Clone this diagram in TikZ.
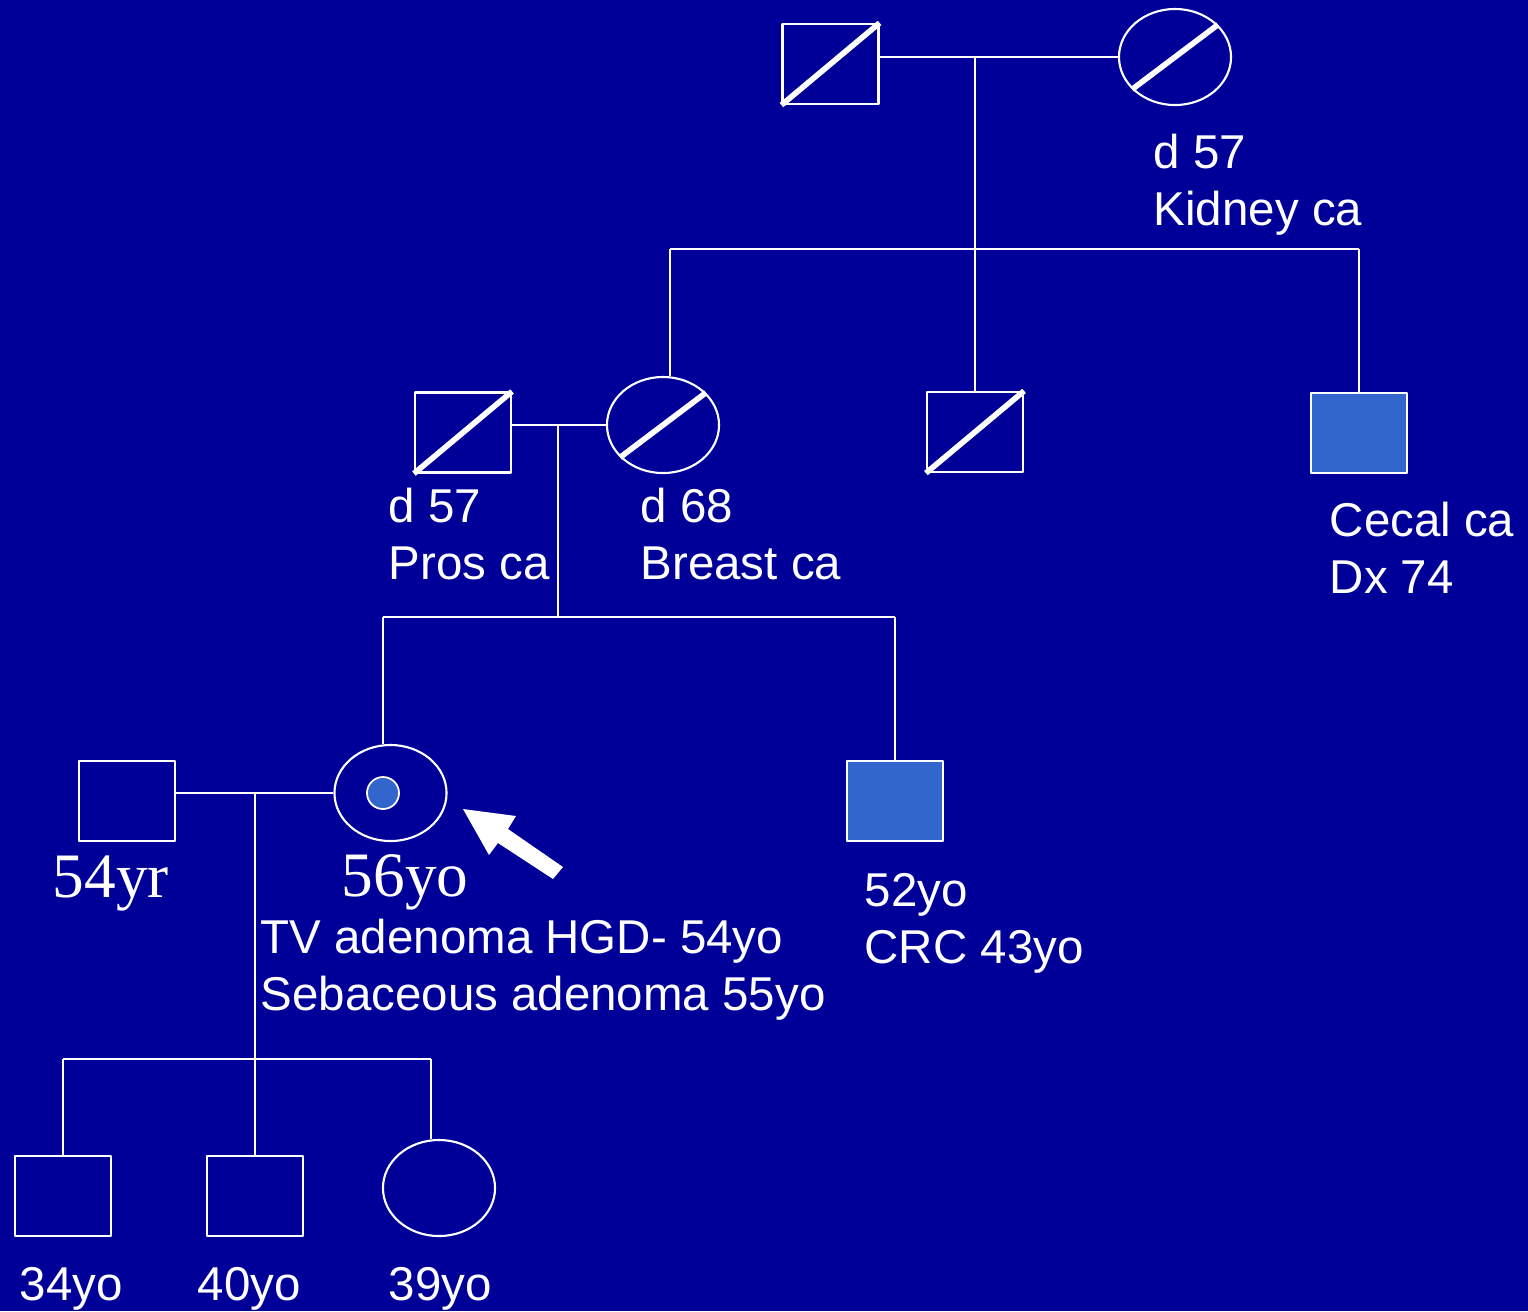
\documentclass[tikz,border=0pt]{standalone}
\usepackage{fontspec}
\setmainfont{Liberation Sans}
\newfontfamily\serifage{Liberation Serif}
\usetikzlibrary{shapes.geometric}
\definecolor{bgblue}{RGB}{0,0,153}
\definecolor{affblue}{RGB}{51,102,204}
\tikzset{
	male/.style={rectangle, draw=white, line width=.6pt, minimum width=.96cm, minimum height=.8cm, inner sep=0pt},
	female/.style={ellipse, draw=white, line width=.6pt, minimum width=1.12cm, minimum height=.96cm, inner sep=0pt},
	affected/.style={fill=affblue},
	deceased/.style={draw=white, line width=1.6pt},
	ptext/.style={text=white, align=left, anchor=base west, inner sep=0pt, font=\fontsize{13.5}{16.2}\selectfont},
	agetext/.style={text=white, anchor=base west, inner sep=0pt, font=\serifage\fontsize{18}{22}\selectfont},
}
\begin{document}
\begin{tikzpicture}[x=.01cm, y=-.01cm, line join=round]
	\fill[bgblue] (0,0) rectangle (1528,1311);
	\useasboundingbox (0,0) rectangle (1528,1311);
	% people
	\node[male] (gpa) at (830.5,64) {};
	\node[female] (gma) at (1175,57) {};
	\node[male] (dad) at (463,432.5) {};
	\node[female] (mom) at (663,425) {};
	\node[male] (unc) at (975,432) {};
	\node[male, affected] (cec) at (1359,433) {};
	\node[male] (husb) at (127,801) {};
	\node[female] (prob) at (390.5,793) {};
	\node[male, affected] (bro) at (895,801) {};
	\node[male] (son1) at (63,1196) {};
	\node[male] (son2) at (255,1196) {};
	\node[female] (dau) at (439,1188) {};
	\node[circle, draw=white, line width=.5pt, fill=affblue, minimum size=.32cm, inner sep=0pt] (dot) at (383,793) {};
	% deceased
	\draw[deceased] (gpa.south west)--(gpa.north east) (dad.south west)--(dad.north east)
	(unc.south west)--(unc.north east) (gma.217)--(gma.37) (mom.217)--(mom.37);
	% lines
	\path
	(975,57) coordinate (m1)
	(975,249) coordinate (s1)
	(670,249) coordinate (s1l)
	(1359,249) coordinate (s1r)
	(558,425) coordinate (m2)
	(558,617) coordinate (s2)
	(383,617) coordinate (s2l)
	(895,617) coordinate (s2r)
	(255,793) coordinate (m3)
	(255,1059) coordinate (s3)
	(63,1059) coordinate (s3l)
	(431,1059) coordinate (s3r)
	;
	\draw[white, line width=.6pt]
	(gpa.east |- gma.west)--(gma.west) (m1)--(s1) (s1l)--(s1r)
	(s1l)--(s1l |- mom.north) (s1)--(unc.north) (s1r)--(cec.north)
	(dad.east |- mom.west)--(mom.west) (m2)--(s2) (s2l)--(s2r)
	(s2l)--(s2l |- prob.north) (s2r)--(bro.north)
	(husb.east |- prob.west)--(prob.west) (m3)--(s3) (s3l)--(s3r)
	(s3l)--(son1.north) (s3)--(son2.north) (s3r)--(s3r |- dau.north)
	;
	% proband arrow
	\fill[white] (463,809)--(516,816)--(508,829)--(563,867)--(553,879)--(498,843)--(489,855)--cycle;
	% texts (base = last line)
	\node[ptext] (tgma) at (1153,225) {d 57\\Kidney ca};
	\node[ptext] (tdad) at (388,579) {d 57\\Pros ca};
	\node[ptext] (tmom) at (640,579) {d 68\\Breast ca};
	\node[ptext] (tcec) at (1329,593) {Cecal ca\\Dx 74};
	\node[agetext] (thusb) at (52,897) {54yr};
	\node[agetext] (tprob) at (341,896) {56yo};
	\node[ptext] (tpath) at (260,1010) {TV adenoma HGD- 54yo\\Sebaceous adenoma 55yo};
	\node[ptext] (tbro) at (864,963) {52yo\\CRC 43yo};
	\node[ptext] (tson1) at (19,1300) {34yo};
	\node[ptext] (tson2) at (197,1300) {40yo};
	\node[ptext] (tdau) at (388,1300) {39yo};
\end{tikzpicture}
\end{document}
